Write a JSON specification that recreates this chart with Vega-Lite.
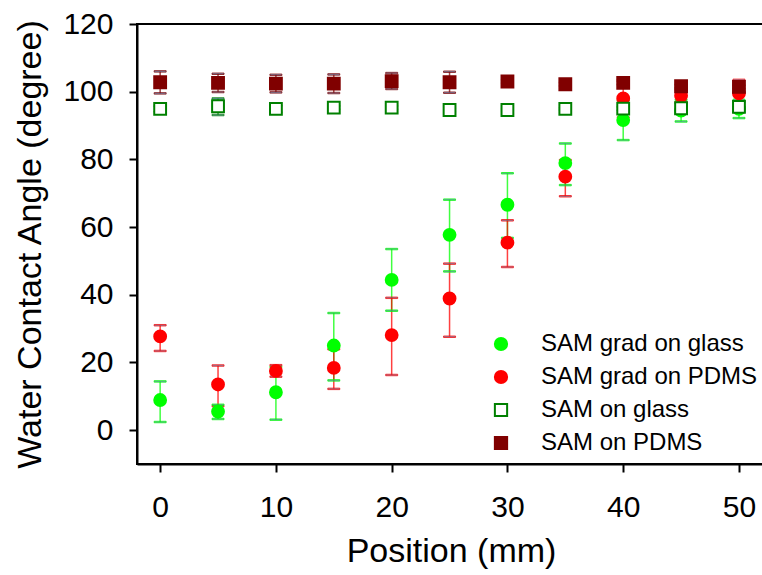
{
  "$schema": "https://vega.github.io/schema/vega-lite/v6.json",
  "autosize": {"type": "none"},
  "padding": {"left": 137, "top": 24, "right": 0, "bottom": 111},
  "width": 628,
  "height": 440,
  "background": "white",
  "config": {
    "font": "Liberation Sans",
    "view": {"stroke": "black", "strokeWidth": 2},
    "axis": {"grid": false, "domainColor": "black", "domainWidth": 2, "tickColor": "black", "tickWidth": 2, "tickSize": 8, "labelColor": "black", "titleColor": "black", "labelFont": "Liberation Sans", "titleFont": "Liberation Sans", "labelFontSize": 30, "titleFontSize": 34, "titleFontWeight": "normal"}
  },
  "data": {"values": [
    {"series": "SAM grad on glass", "x": 0, "y": 8.9, "lo": 2.4, "hi": 14.4},
    {"series": "SAM grad on glass", "x": 5, "y": 5.5, "lo": 3.3, "hi": 7.5},
    {"series": "SAM grad on glass", "x": 10, "y": 11.2, "lo": 3.1, "hi": 18.7},
    {"series": "SAM grad on glass", "x": 15, "y": 25.0, "lo": 14.7, "hi": 34.6},
    {"series": "SAM grad on glass", "x": 20, "y": 44.4, "lo": 35.3, "hi": 53.5},
    {"series": "SAM grad on glass", "x": 25, "y": 57.7, "lo": 46.9, "hi": 68.1},
    {"series": "SAM grad on glass", "x": 30, "y": 66.6, "lo": 56.8, "hi": 75.9},
    {"series": "SAM grad on glass", "x": 35, "y": 78.9, "lo": 72.4, "hi": 84.7},
    {"series": "SAM grad on glass", "x": 40, "y": 91.6, "lo": 85.7, "hi": 97.5},
    {"series": "SAM grad on glass", "x": 45, "y": 94.4, "lo": 91.2, "hi": 97.6},
    {"series": "SAM grad on glass", "x": 50, "y": 94.9, "lo": 92.2, "hi": 97.6},
    {"series": "SAM grad on PDMS", "x": 0, "y": 27.7, "lo": 23.4, "hi": 31.0},
    {"series": "SAM grad on PDMS", "x": 5, "y": 13.5, "lo": 7.1, "hi": 19.1},
    {"series": "SAM grad on PDMS", "x": 10, "y": 17.5, "lo": 15.8, "hi": 19.2},
    {"series": "SAM grad on PDMS", "x": 15, "y": 18.4, "lo": 12.2, "hi": 23.9},
    {"series": "SAM grad on PDMS", "x": 20, "y": 28.1, "lo": 16.3, "hi": 39.1},
    {"series": "SAM grad on PDMS", "x": 25, "y": 38.9, "lo": 27.6, "hi": 49.2},
    {"series": "SAM grad on PDMS", "x": 30, "y": 55.4, "lo": 48.2, "hi": 62.0},
    {"series": "SAM grad on PDMS", "x": 35, "y": 74.9, "lo": 69.1, "hi": 79.8},
    {"series": "SAM grad on PDMS", "x": 40, "y": 98.0, "lo": 92.4, "hi": 103.6},
    {"series": "SAM grad on PDMS", "x": 45, "y": 98.8, "lo": 97.0, "hi": 100.6},
    {"series": "SAM grad on PDMS", "x": 50, "y": 99.5, "lo": 95.5, "hi": 103.5},
    {"series": "SAM on glass", "x": 0, "y": 94.9, "lo": 94.1, "hi": 95.7},
    {"series": "SAM on glass", "x": 5, "y": 95.7, "lo": 93.1, "hi": 98.0},
    {"series": "SAM on glass", "x": 10, "y": 94.9, "lo": 93.9, "hi": 95.9},
    {"series": "SAM on glass", "x": 15, "y": 95.3, "lo": 94.8, "hi": 95.8},
    {"series": "SAM on glass", "x": 20, "y": 95.3, "lo": 94.8, "hi": 95.8},
    {"series": "SAM on glass", "x": 25, "y": 94.6, "lo": 94.1, "hi": 95.1},
    {"series": "SAM on glass", "x": 30, "y": 94.6, "lo": 94.3, "hi": 94.9},
    {"series": "SAM on glass", "x": 35, "y": 94.9, "lo": 94.6, "hi": 95.2},
    {"series": "SAM on glass", "x": 40, "y": 95.0, "lo": 94.5, "hi": 95.5},
    {"series": "SAM on glass", "x": 45, "y": 95.1, "lo": 93.6, "hi": 96.6},
    {"series": "SAM on glass", "x": 50, "y": 95.5, "lo": 94.0, "hi": 97.0},
    {"series": "SAM on PDMS", "x": 0, "y": 102.8, "lo": 99.5, "hi": 106.0},
    {"series": "SAM on PDMS", "x": 5, "y": 102.6, "lo": 99.9, "hi": 105.3},
    {"series": "SAM on PDMS", "x": 10, "y": 102.4, "lo": 99.8, "hi": 105.0},
    {"series": "SAM on PDMS", "x": 15, "y": 102.4, "lo": 99.6, "hi": 105.1},
    {"series": "SAM on PDMS", "x": 20, "y": 103.1, "lo": 100.8, "hi": 105.5},
    {"series": "SAM on PDMS", "x": 25, "y": 102.8, "lo": 99.7, "hi": 105.9},
    {"series": "SAM on PDMS", "x": 30, "y": 103.0, "lo": 102.5, "hi": 103.5},
    {"series": "SAM on PDMS", "x": 35, "y": 102.2, "lo": 101.7, "hi": 102.7},
    {"series": "SAM on PDMS", "x": 40, "y": 102.6, "lo": 102.1, "hi": 103.1},
    {"series": "SAM on PDMS", "x": 45, "y": 101.6, "lo": 101.1, "hi": 102.1},
    {"series": "SAM on PDMS", "x": 50, "y": 101.4, "lo": 100.9, "hi": 101.9}
  ]},
  "encoding": {
    "x": {"field": "x", "type": "quantitative", "title": "Position (mm)",
      "scale": {"domain": [-2, 52.25], "nice": false, "zero": false},
      "axis": {"values": [0, 10, 20, 30, 40, 50], "labelPadding": 20, "titlePadding": 12}},
    "stroke": {"field": "series", "type": "nominal", "title": null,
      "scale": {"domain": ["SAM grad on glass", "SAM grad on PDMS", "SAM on glass", "SAM on PDMS"], "range": ["#00ff00", "#ff0000", "#008000", "#800000"]}}
  },
  "layer": [
    {
      "mark": {"type": "rule", "strokeWidth": 1.5, "strokeOpacity": 0.75},
      "encoding": {
        "y": {"field": "lo", "type": "quantitative", "title": "Water Contact Angle (degree)",
          "scale": {"domain": [-10, 120], "nice": false, "zero": false},
          "axis": {"values": [0, 20, 40, 60, 80, 100, 120], "labelPadding": 16, "titlePadding": 15}},
        "y2": {"field": "hi"}
      }
    },
    {
      "mark": {"type": "tick", "orient": "horizontal", "size": 12, "thickness": 1.5, "strokeOpacity": 0.75, "fillOpacity": 0.75},
      "encoding": {
        "y": {"field": "lo", "type": "quantitative"}
      }
    },
    {
      "mark": {"type": "tick", "orient": "horizontal", "size": 12, "thickness": 1.5, "strokeOpacity": 0.75, "fillOpacity": 0.75},
      "encoding": {
        "y": {"field": "hi", "type": "quantitative"}
      }
    },
    {
      "mark": {"type": "point", "filled": true, "strokeWidth": 2, "opacity": 1},
      "encoding": {
        "y": {"field": "y", "type": "quantitative"},
        "size": {"value": 140},
        "fill": {"field": "series", "type": "nominal", "title": null,
          "scale": {"domain": ["SAM grad on glass", "SAM grad on PDMS", "SAM on glass", "SAM on PDMS"], "range": ["#00ff00", "#ff0000", "#ffffff", "#800000"]},
          "legend": {"orient": "none", "legendX": 352, "legendY": 308, "padding": 0, "labelFontSize": 24, "labelFont": "Liberation Sans", "labelColor": "black", "labelOffset": 28, "labelLimit": 0, "rowPadding": 9, "symbolSize": 150, "symbolStrokeWidth": 2, "symbolOpacity": 1}},
        "shape": {"field": "series", "type": "nominal", "title": null,
          "scale": {"domain": ["SAM grad on glass", "SAM grad on PDMS", "SAM on glass", "SAM on PDMS"], "range": ["circle", "circle", "square", "square"]}}
      }
    }
  ]
}
